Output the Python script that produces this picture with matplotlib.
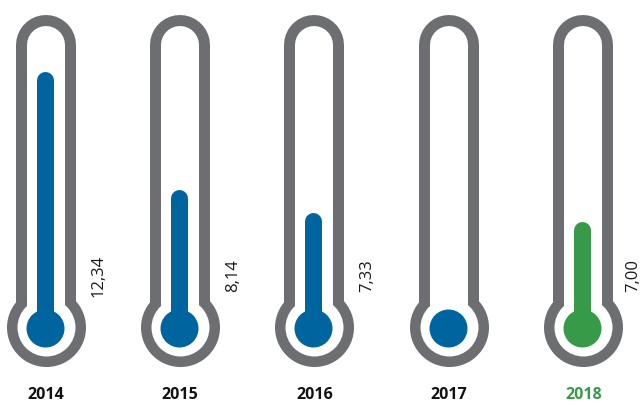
import matplotlib.pyplot as plt

years  = ["2014", "2015", "2016", "2017", "2018"]
values = [12.34, 8.14, 7.33, None, 7.00]
highlight = "2018"

GRAY  = "#6d6e71"
BLUE  = "#00659f"
GREEN = "#379a48"

PT = 0.72          # points per pixel at 100 dpi
TUBE_TOP = 45      # centre of the rounded tube end (px)
BULB_Y = 327       # bulb centre (px)
XMAX = 4.437

fig = plt.figure(figsize=(6.42, 4.05), dpi=100)

# outlines live in pixel units vertically, one category per thermometer
ax = fig.add_axes([0, 0, 1, 1])
ax.set_xlim(-0.34, XMAX)
ax.set_ylim(405, 0)
ax.axis("off")

# value scale for the mercury columns
vax = ax.twinx()
vax.set_ylim(0.483, 14.876)
vax.axis("off")
bulb_value = 3.22
cap = 0.30

for i, (year, v) in enumerate(zip(years, values)):
    fill = GREEN if year == highlight else BLUE

    # glass: gray outline, white inside
    ax.plot([i, i], [TUBE_TOP, BULB_Y], color=GRAY, lw=60 * PT,
            solid_capstyle="round", zorder=1)
    ax.plot(i, BULB_Y, "o", ms=79 * PT, color=GRAY, mew=0, zorder=2)
    ax.plot([i, i], [TUBE_TOP, BULB_Y], color="white", lw=38 * PT,
            solid_capstyle="round", zorder=3)
    ax.plot(i, BULB_Y, "o", ms=58 * PT, color="white", mew=0, zorder=4)

    # mercury
    ax.plot(i - 0.008, BULB_Y + 1, "o", ms=38 * PT, color=fill, mew=0, zorder=5)
    if v is not None:
        vax.plot([i - 0.008, i - 0.008], [bulb_value, v - cap], color=fill,
                 lw=17 * PT, solid_capstyle="round")
        # keep the last label inside the right edge
        lx = min(i + 0.394, XMAX - 0.065)
        ax.text(lx, 276, f"{v:.2f}".replace(".", ","), rotation=90,
                ha="center", va="center", fontsize=12, family="Open Sans",
                color="#1a1a1a")

    ax.text(i, 395, year, ha="center", va="center", fontsize=11.5,
            fontweight="bold", family="Open Sans",
            color=GREEN if year == highlight else "#111111")

fig.savefig("out.png", dpi=100)
